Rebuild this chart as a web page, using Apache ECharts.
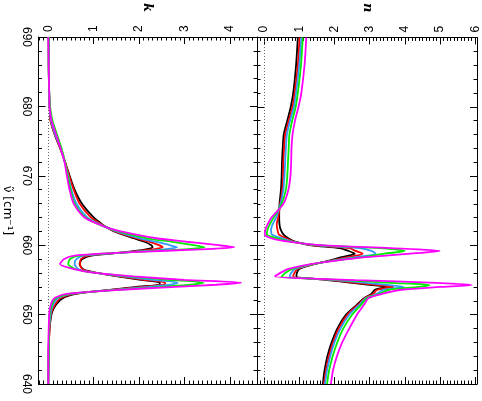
<!DOCTYPE html>
<html>
<head>
<meta charset="utf-8">
<script src="https://cdn.jsdelivr.net/npm/echarts@6/dist/echarts.min.js"></script>
<style>
  html, body { margin: 0; padding: 0; background: #fff; }
  #main { width: 482px; height: 401px; }
</style>
</head>
<body>
<div id="main"></div>
<script>
// wavenumber samples (cm^-1) for each panel
const waveK = [690, 686, 682, 680, 678, 676, 674, 672, 670, 668, 666, 664, 663, 662.5, 662, 661, 660.5, 660, 659.7, 659.4,
  659, 658.5, 658, 657.3, 656.5, 656, 655.5, 655, 654.6, 654.3, 654, 653.5, 653, 652.5, 652, 651, 650, 648, 645, 640];
const waveN = [690, 686, 682, 680, 678, 676, 674, 672, 670, 668, 666, 664, 663, 662.3, 661.6, 661, 660.5, 660, 659.6, 659.2,
  658.8, 658.3, 657.8, 657.2, 656.6, 656, 655.5, 655, 654.6, 654.3, 654, 653.6, 653, 652.4, 651.5, 650, 648, 646, 644, 642, 640];

// k (imaginary part)
const kBlack = [0.01, 0.01, 0.02, 0.03, 0.05, 0.14, 0.26, 0.37, 0.47, 0.58, 0.74, 1.00, 1.19, 1.31, 1.45, 1.88, 2.12, 2.27, 2.30, 2.15,
  1.70, 0.95, 0.75, 0.69, 0.78, 1.09, 1.53, 2.04, 2.46, 2.45, 1.95, 1.25, 0.60, 0.36, 0.25, 0.13, 0.07, 0.03, 0.01, 0.00];
const kRed = [0.01, 0.01, 0.02, 0.03, 0.05, 0.14, 0.26, 0.37, 0.46, 0.56, 0.69, 0.94, 1.17, 1.31, 1.47, 1.93, 2.22, 2.44, 2.52, 2.30,
  1.75, 0.88, 0.72, 0.70, 0.76, 1.07, 1.57, 2.12, 2.58, 2.55, 2.05, 1.28, 0.55, 0.31, 0.21, 0.11, 0.06, 0.03, 0.01, 0.00];
const kBlue = [0.01, 0.01, 0.02, 0.03, 0.06, 0.15, 0.27, 0.36, 0.44, 0.51, 0.62, 0.86, 1.14, 1.31, 1.50, 2.02, 2.36, 2.68, 2.84, 2.55,
  1.80, 0.78, 0.62, 0.58, 0.68, 1.05, 1.65, 2.30, 2.85, 2.70, 2.20, 1.32, 0.50, 0.25, 0.16, 0.08, 0.05, 0.02, 0.01, 0.00];
const kGreen = [0.01, 0.01, 0.02, 0.04, 0.09, 0.19, 0.29, 0.37, 0.43, 0.49, 0.58, 0.82, 1.12, 1.32, 1.55, 2.18, 2.70, 3.20, 3.44, 3.00,
  1.82, 0.68, 0.48, 0.44, 0.62, 1.04, 1.78, 2.65, 3.42, 3.15, 2.50, 1.37, 0.45, 0.21, 0.12, 0.06, 0.03, 0.02, 0.01, 0.00];
const kMagenta = [0.00, 0.01, 0.02, 0.03, 0.07, 0.17, 0.27, 0.36, 0.41, 0.47, 0.56, 0.80, 1.12, 1.32, 1.60, 2.38, 3.05, 3.75, 4.10, 3.35,
  1.85, 0.58, 0.35, 0.26, 0.60, 1.03, 1.88, 3.00, 4.25, 3.70, 2.80, 1.40, 0.40, 0.17, 0.09, 0.04, 0.02, 0.01, 0.00, 0.00];

// n (real part)
const nBlack = [0.96, 0.91, 0.83, 0.76, 0.66, 0.56, 0.53, 0.51, 0.50, 0.48, 0.44, 0.43, 0.44, 0.47, 0.55, 0.70, 0.90, 1.35, 2.14, 2.40,
  2.58, 2.20, 1.85, 1.35, 1.00, 0.93, 0.92, 1.80, 2.50, 3.00, 3.50, 3.15, 3.05, 2.85, 2.65, 2.33, 2.08, 1.92, 1.80, 1.72, 1.67];
const nRed = [1.01, 0.96, 0.87, 0.81, 0.70, 0.60, 0.57, 0.55, 0.54, 0.52, 0.46, 0.40, 0.36, 0.38, 0.42, 0.64, 0.88, 1.42, 2.43, 2.60,
  2.80, 2.40, 1.90, 1.32, 0.95, 0.86, 0.83, 1.90, 2.62, 3.20, 3.68, 3.22, 3.10, 2.87, 2.68, 2.37, 2.12, 1.96, 1.84, 1.76, 1.70];
const nBlue = [1.06, 1.00, 0.91, 0.85, 0.74, 0.65, 0.62, 0.60, 0.58, 0.55, 0.47, 0.34, 0.24, 0.20, 0.22, 0.52, 0.84, 1.52, 2.71, 3.05,
  3.17, 2.60, 1.95, 1.30, 0.88, 0.77, 0.73, 2.00, 2.90, 3.50, 3.98, 3.40, 3.20, 2.90, 2.72, 2.42, 2.17, 2.00, 1.88, 1.79, 1.73];
const nGreen = [1.10, 1.05, 0.96, 0.90, 0.80, 0.72, 0.70, 0.68, 0.66, 0.62, 0.50, 0.27, 0.16, 0.10, 0.08, 0.38, 0.80, 1.62, 3.28, 4.00,
  3.42, 2.80, 2.00, 1.27, 0.80, 0.60, 0.50, 2.20, 3.60, 4.70, 4.40, 3.55, 3.28, 2.93, 2.77, 2.50, 2.25, 2.08, 1.95, 1.85, 1.79];
const nMagenta = [1.20, 1.15, 1.06, 0.98, 0.88, 0.81, 0.78, 0.77, 0.75, 0.69, 0.55, 0.21, 0.10, 0.04, 0.02, 0.22, 0.75, 1.72, 3.60, 4.99,
  4.16, 2.90, 2.05, 1.22, 0.70, 0.45, 0.31, 2.60, 4.90, 5.90, 5.00, 3.90, 3.35, 2.97, 2.85, 2.64, 2.42, 2.22, 2.07, 1.96, 1.90];

// tick labels
const kTicks = [0, 1, 2, 3, 4];
const nTicks = [0, 1, 2, 3, 4, 5, 6];
const waveTicks = [640, 650, 660, 670, 680, 690];

const colors = ['#000000', '#ff0000', '#3399ff', '#00ee00', '#ff00ff'];
const FONT = 'Liberation Sans';

// minor ticks every 0.1 between frame edges, skipping the labelled ones
function minorsFor(min, max) {
  const out = [];
  for (let i = Math.ceil(min * 10); i <= Math.floor(max * 10); i++) {
    if (i % 10 !== 0) out.push(i / 10);
  }
  return out;
}

function valueAxes(grid, min, max, majors, name) {
  const minors = minorsFor(min, max);
  const line = { show: true, onZero: false, lineStyle: { color: '#000', width: 1 } };
  const base = { gridIndex: grid, type: 'value', min: min, max: max, splitLine: { show: false } };
  return [
    Object.assign({}, base, {
      position: 'top',
      axisLine: line,
      axisTick: { show: true, inside: true, length: 7, customValues: majors, lineStyle: { color: '#000' } },
      axisLabel: { show: true, customValues: majors, rotate: -90, margin: 5, color: '#000', fontSize: 12, fontFamily: FONT },
      name: name, nameLocation: 'middle', nameGap: 25, nameRotate: -90,
      nameTextStyle: { fontFamily: 'DejaVu Serif', fontStyle: 'italic', fontWeight: 'bold', fontSize: 13, color: '#000' }
    }),
    Object.assign({}, base, {
      position: 'top', axisLine: { show: false },
      axisTick: { show: true, inside: true, length: 3.5, customValues: minors, lineStyle: { color: '#000' } },
      axisLabel: { show: false }
    }),
    Object.assign({}, base, {
      position: 'bottom', axisLine: line,
      axisTick: { show: true, inside: true, length: 7, customValues: majors, lineStyle: { color: '#000' } },
      axisLabel: { show: false }
    }),
    Object.assign({}, base, {
      position: 'bottom', axisLine: { show: false },
      axisTick: { show: true, inside: true, length: 3.5, customValues: minors, lineStyle: { color: '#000' } },
      axisLabel: { show: false }
    })
  ];
}

function waveAxis(grid, position, labelled) {
  const ax = {
    gridIndex: grid, type: 'value', position: position, min: 640, max: 690, interval: 10,
    axisLine: { show: true, onZero: false, lineStyle: { color: '#000', width: 1 } },
    axisTick: { show: true, inside: true, length: 7, lineStyle: { color: '#000' } },
    minorTick: { show: true, splitNumber: 5, length: 3.5, lineStyle: { color: '#000' } },
    splitLine: { show: false },
    axisLabel: { show: false }
  };
  if (labelled) {
    ax.axisLabel = { show: true, customValues: waveTicks, rotate: -90, margin: 6, color: '#000', fontSize: 12, fontFamily: FONT };
    ax.name = 'ν\u0303 [cm\u207B\u00B9]';
    ax.nameLocation = 'middle';
    ax.nameGap = 25;
    ax.nameRotate = -90;
    ax.nameTextStyle = { fontFamily: 'DejaVu Sans', fontSize: 12, color: '#000' };
  }
  return ax;
}

function curves(wave, sets, xIdx, yIdx) {
  return sets.map((vals, i) => {
    const s = {
      type: 'line',
      xAxisIndex: xIdx,
      yAxisIndex: yIdx,
      data: wave.map((w, j) => [vals[j], w]),
      showSymbol: false,
      smooth: 0.25,
      lineStyle: { color: colors[i], width: 1.8 },
      itemStyle: { color: colors[i] },
      z: 3 + i
    };
    if (i === 0) {
      s.markLine = {
        silent: true, symbol: ['none', 'none'], label: { show: false },
        lineStyle: { type: [1, 2], color: '#666', width: 1 },
        data: [{ xAxis: 0 }]
      };
    }
    return s;
  });
}

const chart = echarts.init(document.getElementById('main'));
chart.setOption({
  animation: false,
  backgroundColor: '#fff',
  grid: [
    { left: 38.5, top: 35, width: 218.5, height: 349 },
    { left: 257, top: 35, width: 220, height: 349 }
  ],
  xAxis: [].concat(
    valueAxes(0, -0.215, 4.6, kTicks, 'k'),
    valueAxes(1, -0.2, 6.05, nTicks, 'n')
  ),
  yAxis: [
    waveAxis(0, 'left', true),
    waveAxis(0, 'right', false),
    waveAxis(1, 'left', false),
    waveAxis(1, 'right', false)
  ],
  series: [].concat(
    curves(waveK, [kBlack, kRed, kBlue, kGreen, kMagenta], 0, 0),
    curves(waveN, [nBlack, nRed, nBlue, nGreen, nMagenta], 4, 2)
  )
});
</script>
</body>
</html>
